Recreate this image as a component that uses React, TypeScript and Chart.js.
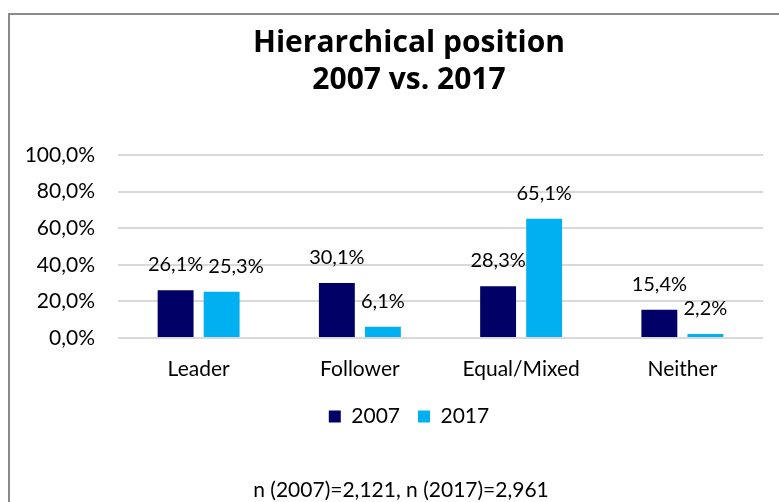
import React, { useEffect, useRef } from 'react';
import { Chart, registerables } from 'chart.js';

Chart.register(...registerables);

const categories = ['Leader', 'Follower', 'Equal/Mixed', 'Neither'];
const seriesNames = ['2007', '2017'];
const values2007 = [26.1, 30.1, 28.3, 15.4];
const values2017 = [25.3, 6.1, 65.1, 2.2];
const seriesColors = ['#000066', '#00B0F0'];
const titleLines = ['Hierarchical position', '2007 vs. 2017'];
const footnote = 'n (2007)=2,121, n (2017)=2,961';
const yMin = 0;
const yMax = 100;
const yStep = 20;

const FONT = 'Lato, "Open Sans", sans-serif';
const TITLE_FONT = '"Open Sans", Lato, sans-serif';
const TEXT = '#000000';

const fmt = (v: number) => v.toFixed(1).replace('.', ',') + '%';

const framePlugin = {
  id: 'frame',
  beforeDraw(chart: any) {
    const ctx = chart.ctx;
    ctx.save();
    ctx.fillStyle = '#ffffff';
    ctx.fillRect(0, 0, chart.width, chart.height);
    ctx.fillStyle = '#8a8a8a';
    ctx.fillRect(8, 13, chart.width - 8, 2);
    ctx.fillRect(8, 13, 2, chart.height - 13);
    ctx.restore();
  },
};

const labelPlugin = {
  id: 'barLabels',
  afterDatasetsDraw(chart: any) {
    const ctx = chart.ctx;
    ctx.save();
    ctx.font = `20px ${FONT}`;
    ctx.fillStyle = TEXT;
    ctx.textBaseline = 'alphabetic';
    ctx.textAlign = 'left';
    const n = chart.data.labels.length;
    for (let i = 0; i < n; i++) {
      const placed: { l: number; r: number; y: number }[] = [];
      chart.data.datasets.forEach((ds: any, di: number) => {
        const meta = chart.getDatasetMeta(di);
        const bar = meta.data[i];
        if (!bar) return;
        const txt = fmt(ds.data[i]);
        const w = ctx.measureText(txt).width;
        let left = bar.x - w / 2;
        const y = bar.y - 19;
        for (const p of placed) {
          if (Math.abs(p.y - y) < 18 && left < p.r + 5) {
            left = p.r + 5;
          }
        }
        ctx.fillText(txt, left, y);
        placed.push({ l: left, r: left + w, y });
      });
    }
    ctx.restore();
  },
};

const footnotePlugin = {
  id: 'footnote',
  afterDraw(chart: any) {
    const ctx = chart.ctx;
    ctx.save();
    ctx.font = `21px ${FONT}`;
    ctx.fillStyle = TEXT;
    ctx.textAlign = 'center';
    ctx.textBaseline = 'alphabetic';
    ctx.fillText(footnote, chart.width / 2 - 8, chart.height - 5);
    ctx.restore();
  },
};

export default function App() {
  const ref = useRef<HTMLCanvasElement>(null);

  useEffect(() => {
    const chart = new Chart(ref.current!, {
      type: 'bar',
      data: {
        labels: categories,
        datasets: [
          {
            label: seriesNames[0],
            data: values2007,
            backgroundColor: seriesColors[0],
            borderWidth: 0,
            barPercentage: 0.78,
            categoryPercentage: 0.571,
          },
          {
            label: seriesNames[1],
            data: values2017,
            backgroundColor: seriesColors[1],
            borderWidth: 0,
            barPercentage: 0.78,
            categoryPercentage: 0.571,
          },
        ],
      },
      options: {
        responsive: false,
        animation: false,
        layout: { padding: { left: 8, right: 8, top: 0, bottom: 65 } },
        plugins: {
          title: {
            display: true,
            text: titleLines,
            color: TEXT,
            font: { family: TITLE_FONT, size: 30, weight: 'bold', lineHeight: 1.25 },
            padding: { top: 24.5, bottom: 55.5 },
          },
          legend: {
            display: true,
            position: 'bottom',
            labels: {
              color: TEXT,
              font: { family: FONT, size: 21 },
              boxWidth: 12,
              boxHeight: 12,
              padding: 18,
            },
          },
          tooltip: { enabled: false },
        },
        scales: {
          x: {
            grid: { display: false },
            border: { display: false },
            ticks: { color: TEXT, font: { family: FONT, size: 21 }, padding: 11 },
            afterFit: (s: any) => {
              s.height = 50;
            },
          },
          y: {
            min: yMin,
            max: yMax,
            grid: { color: '#d9d9d9', lineWidth: 2, drawTicks: false },
            border: { display: false },
            ticks: {
              stepSize: yStep,
              color: TEXT,
              font: { family: FONT, size: 21 },
              padding: 23,
              callback: (v: any) => fmt(Number(v)),
            },
            afterFit: (s: any) => {
              s.width = 110;
            },
          },
          yR: {
            type: 'linear',
            position: 'right',
            display: true,
            grid: { display: false },
            border: { display: false },
            ticks: { display: false },
            afterFit: (s: any) => {
              s.width = 47;
            },
          },
        },
      },
      plugins: [framePlugin, labelPlugin, footnotePlugin],
    } as any);
    return () => chart.destroy();
  }, []);

  return (
    <div
      style={{
        position: 'fixed',
        left: 0,
        top: 0,
        width: 779,
        height: 502,
        overflow: 'hidden',
        background: '#ffffff',
      }}
    >
      <canvas ref={ref} width={818} height={502} style={{ display: 'block', width: 818, height: 502 }} />
    </div>
  );
}
